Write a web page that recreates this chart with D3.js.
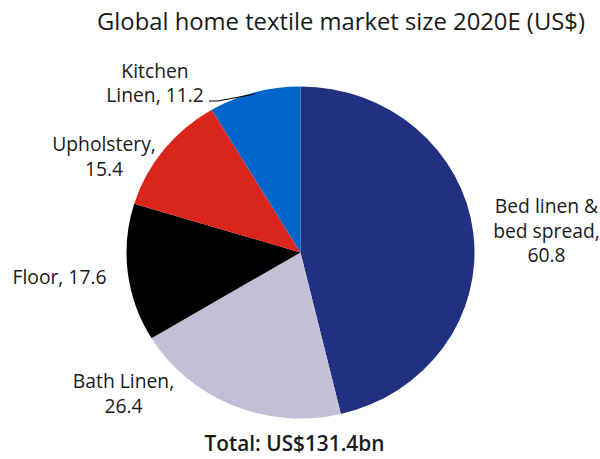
<!DOCTYPE html>
<html>
<head>
<meta charset="utf-8">
<script src="https://cdn.jsdelivr.net/npm/d3@7"></script>
<style>
  html, body { margin: 0; padding: 0; background: #fff; }
  svg text { font-family: "Open Sans", sans-serif; fill: #1a1a1a; }
</style>
</head>
<body>
<svg id="chart" width="600" height="459"></svg>
<script>
// Segment data (US$ bn), clockwise from 12 o'clock
const segments = ["Bed linen & bed spread", "Bath Linen", "Floor", "Upholstery", "Kitchen Linen"];
const values = [60.8, 26.4, 17.6, 15.4, 11.2];
const colors = ["#213180", "#C0BFD6", "#000000", "#DA251D", "#0066CC"];
const labelLines = [
  ["Bed linen &", "bed spread,", "60.8"],
  ["Bath Linen,", "26.4"],
  ["Floor, 17.6"],
  ["Upholstery,", "15.4"],
  ["Kitchen", "Linen, 11.2"]
];
const title = "Global home textile market size 2020E (US$)";
const total = "Total: US$131.4bn";

// Layout
const cx = 300.5, cy = 252.5, r = 166, xStretch = 174 / 166;
const labelPos = [
  { x: 546.5, y: 213 },
  { x: 123.5, y: 388 },
  { x: 59.5,  y: 284 },
  { x: 104,   y: 151 },
  { x: 155,   y: 77.5 }
];
const lineH = 24.5;

const svg = d3.select("#chart");

svg.append("text")
  .attr("x", 341).attr("y", 30)
  .attr("text-anchor", "middle")
  .style("font-size", "23.8px")
  .text(title);

const pie = d3.pie().sort(null).value(d => d)(values);
const arc = d3.arc().innerRadius(0).outerRadius(r);

const g = svg.append("g")
  .attr("transform", `translate(${cx},${cy}) scale(${xStretch},1)`);

g.selectAll("path")
  .data(pie)
  .join("path")
  .attr("d", arc)
  .attr("fill", (d, i) => colors[i]);

// Leader line for the small kitchen segment
const kAngle = (pie[4].startAngle + pie[4].endAngle) / 2;
const kx = cx + Math.sin(kAngle) * r * xStretch * 0.99;
const ky = cy - Math.cos(kAngle) * r * 0.99;
svg.append("path")
  .attr("d", `M209,101 L218,101 L${kx},${ky}`)
  .attr("fill", "none")
  .attr("stroke", "#000")
  .attr("stroke-width", 1.2);

labelLines.forEach((lines, i) => {
  const t = svg.append("text")
    .attr("text-anchor", "middle")
    .style("font-size", "19.3px");
  lines.forEach((s, j) => {
    t.append("tspan")
      .attr("x", labelPos[i].x)
      .attr("y", labelPos[i].y + j * lineH)
      .text(s);
  });
});

svg.append("text")
  .attr("x", 294.5).attr("y", 451)
  .attr("text-anchor", "middle")
  .style("font-size", "20.8px")
  .style("font-weight", "600")
  .text(total);
</script>
</body>
</html>
